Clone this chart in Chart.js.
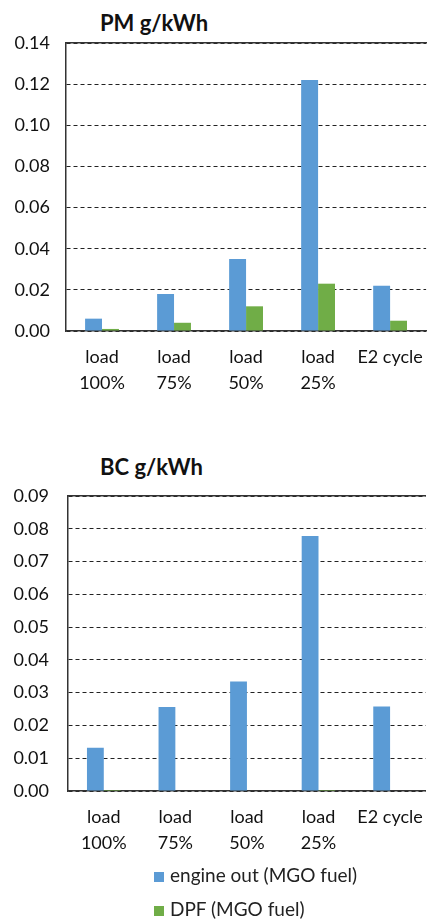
<!DOCTYPE html>
<html>
<head>
<meta charset="utf-8">
<script src="https://cdn.jsdelivr.net/npm/chart.js@4"></script>
<style>
  html, body { margin: 0; padding: 0; background: #fff; }
  body { width: 438px; height: 919px; position: relative; overflow: hidden; font-family: Lato, "Open Sans", sans-serif; }
  .box { position: absolute; left: 0; width: 438px; }
  .title { position: absolute; font: bold 22px/22px Lato, sans-serif; color: #111; white-space: nowrap; }
  .legend { position: absolute; left: 154px; top: 858px; font: 19px/34px Lato, sans-serif; color: #222; }
  .legend div { white-space: nowrap; }
  .legend span.sw { display: inline-block; width: 10px; height: 10px; margin-right: 6px; vertical-align: 0; }
</style>
</head>
<body>
<div class="title" style="left:100px;top:12px">PM g/kWh</div>
<div class="box" style="top:0;height:400px"><canvas id="pm"></canvas></div>
<div class="title" style="left:100px;top:456px">BC g/kWh</div>
<div class="box" style="top:440px;height:420px"><canvas id="bc"></canvas></div>
<div class="legend" id="legend"></div>
<script>
// ---- data ----
const categories = [["load", "100%"], ["load", "75%"], ["load", "50%"], ["load", "25%"], "E2 cycle"];
const seriesNames = ["engine out (MGO fuel)", "DPF (MGO fuel)"];
const seriesColors = ["#5B9BD5", "#70AD47"];
const pmEngineOut = [0.006, 0.018, 0.035, 0.122, 0.022];
const pmDPF = [0.001, 0.004, 0.012, 0.023, 0.005];
const bcEngineOut = [0.0132, 0.0256, 0.0334, 0.0778, 0.0258];
const bcDPF = [0.0003, 0.0, 0.0, 0.0003, 0.0];
const pmTicks = { min: 0, max: 0.14, step: 0.02 };
const bcTicks = { min: 0, max: 0.09, step: 0.01 };

const FONT = { family: "Lato, 'Open Sans', sans-serif", size: 18, lineHeight: 1.4 };
const DARK = "#333";

function makeChart(id, values, tk, cfg) {
  return new Chart(document.getElementById(id), {
    type: "bar",
    data: {
      labels: categories,
      datasets: values.map((v, i) => ({
        label: seriesNames[i],
        data: v,
        backgroundColor: seriesColors[i],
        borderWidth: 0,
        categoryPercentage: 0.47,
        barPercentage: 1.0
      }))
    },
    options: {
      responsive: true,
      maintainAspectRatio: false,
      animation: false,
      events: [],
      layout: { padding: { top: cfg.padTop, bottom: cfg.padBottom, left: 0, right: 0 } },
      plugins: { legend: { display: false }, title: { display: false }, tooltip: { enabled: false } },
      scales: {
        x: {
          grid: { display: false, drawTicks: false },
          border: { display: true, color: DARK, width: 1.5 },
          ticks: { font: FONT, color: "#111", padding: cfg.xPad, maxRotation: 0, autoSkip: false },
          afterFit: s => { s.height = 60; }
        },
        xTop: {
          type: "category",
          position: "top",
          grid: { display: false, drawTicks: false },
          border: { display: true, color: DARK, width: 1.5 },
          ticks: { display: false },
          afterFit: s => { s.height = 0; }
        },
        y: {
          min: tk.min, max: tk.max,
          grid: { color: "#222", lineWidth: 1, drawTicks: false },
          border: { display: true, color: DARK, width: 1.5, dash: [4, 3] },
          ticks: {
            stepSize: tk.step, font: FONT, color: "#111", padding: cfg.yPad,
            callback: v => Number(v).toFixed(2)
          },
          afterFit: s => { s.width = cfg.left; }
        }
      }
    }
  });
}

makeChart("pm", [pmEngineOut, pmDPF], pmTicks, { padTop: 43, padBottom: 9, left: 66, xPad: 14, yPad: 16 });
makeChart("bc", [bcEngineOut, bcDPF], bcTicks, { padTop: 56, padBottom: 9, left: 68, xPad: 14, yPad: 19 });

const lg = document.getElementById("legend");
seriesNames.forEach((n, i) => {
  const d = document.createElement("div");
  const sw = document.createElement("span");
  sw.className = "sw";
  sw.style.background = seriesColors[i];
  d.appendChild(sw);
  d.appendChild(document.createTextNode(n));
  lg.appendChild(d);
});
</script>
</body>
</html>
